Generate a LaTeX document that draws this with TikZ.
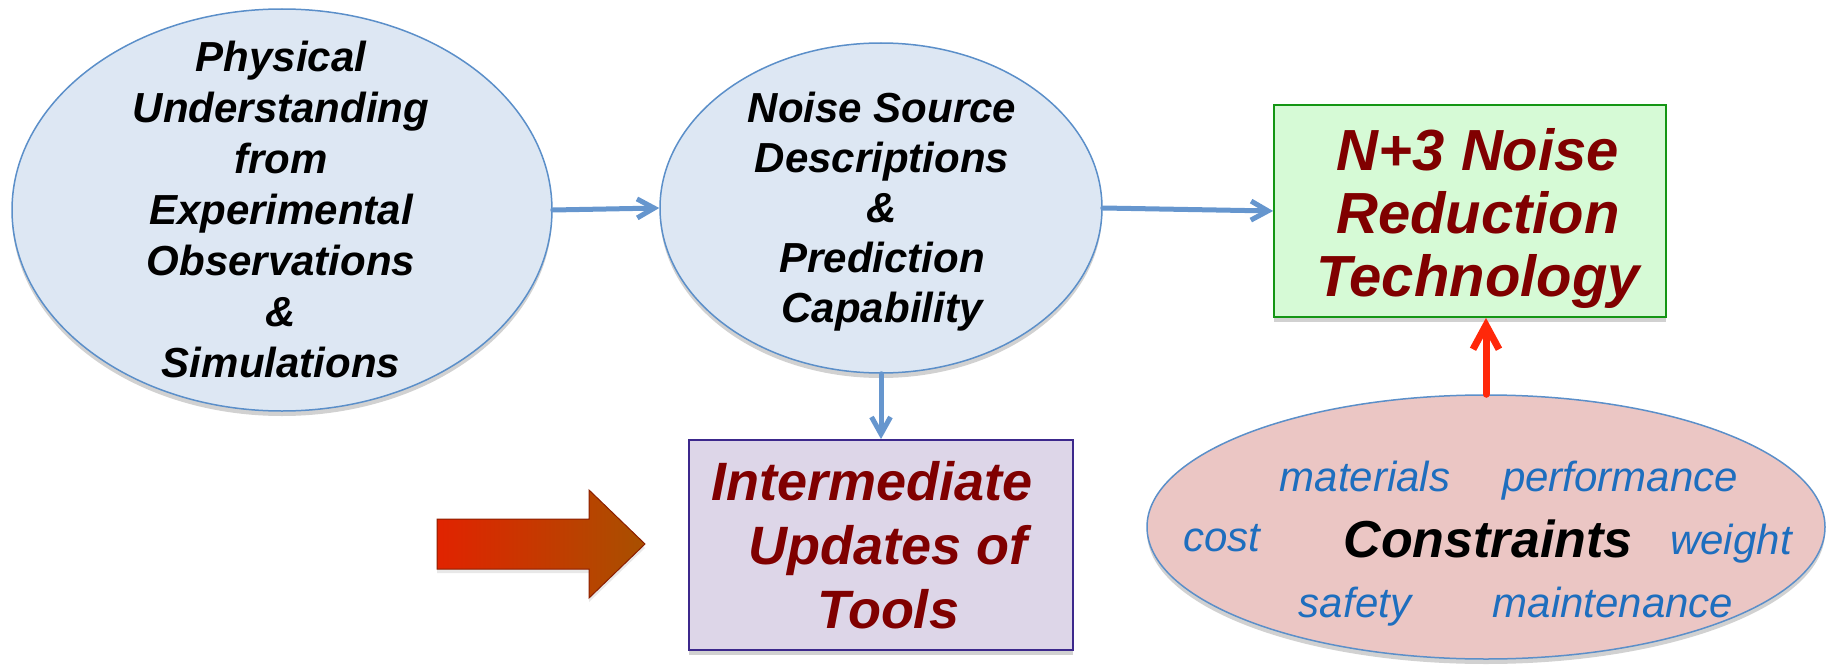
\documentclass[tikz,border=0pt]{standalone}
\usepackage{fontspec}
\setmainfont{Liberation Sans}
\usetikzlibrary{shapes.geometric,arrows.meta,shadows}

\definecolor{ellfill}{RGB}{221,231,243}
\definecolor{ellline}{RGB}{91,143,201}
\definecolor{linkblue}{RGB}{102,150,206}
\definecolor{techfill}{RGB}{214,250,214}
\definecolor{techline}{RGB}{20,150,20}
\definecolor{darkred}{RGB}{128,0,0}
\definecolor{toolfill}{RGB}{221,214,232}
\definecolor{toolline}{RGB}{60,40,140}
\definecolor{consfill}{RGB}{235,198,196}
\definecolor{wordblue}{RGB}{30,110,190}
\definecolor{redlink}{RGB}{255,40,10}
\definecolor{arrowleft}{RGB}{225,35,0}
\definecolor{arrowright}{RGB}{168,80,0}
\definecolor{arrowline}{RGB}{140,30,0}

\begin{document}
\begin{tikzpicture}[x=1pt,y=-1pt,
  softshadow/.style={drop shadow={shadow xshift=0pt,shadow yshift=-5pt,opacity=0.18,fill=black}},
  bubble/.style={ellipse,draw=ellline,fill=ellfill,line width=1.5pt,inner sep=0pt,softshadow},
  bubbletext/.style={align=center,inner sep=0pt,font=\fontsize{42}{51}\selectfont\bfseries\itshape},
  panel/.style={rectangle,line width=1.8pt,inner sep=0pt,softshadow},
  paneltext/.style={align=center,inner sep=0pt,text=darkred,
    font=\fontsize{54}{64}\selectfont\bfseries\itshape},
  word/.style={text=wordblue,font=\fontsize{42}{50}\selectfont\itshape},
  flow/.style={draw=linkblue,line width=5pt,line cap=round,
    -{Straight Barb[length=17pt,width=19pt,line width=5pt]}},
  push/.style={draw=redlink,line width=7pt,line cap=round,
    -{Straight Barb[length=24pt,width=26pt,line width=7pt]}}
]
\useasboundingbox (0,0) rectangle (1829,669);

% main bubbles
\node[bubble,minimum width=540pt,minimum height=402pt] (phys) at (282,210) {};
\node[bubbletext] (physt) at (281,209)
  {Physical\\Understanding\\from\\Experimental\\Observations\\\&\\Simulations};
\node[bubble,minimum width=442pt,minimum height=330pt] (src) at (881,208) {};
\node[bubbletext,font=\fontsize{42}{50}\selectfont\bfseries\itshape] (srct) at (882,212)
  {Noise Source\\Descriptions\\\&\\Prediction\\Capability};

% boxes
\node[panel,draw=techline,fill=techfill,minimum width=392pt,minimum height=212pt] (tech) at (1470,211) {};
\node[paneltext,font=\fontsize{58}{63}\selectfont\bfseries\itshape] (techt) at (1478,219)
  {N+3 Noise\\Reduction\\Technology};
\node[panel,draw=toolline,fill=toolfill,minimum width=384pt,minimum height=210pt] (tools) at (881,545) {};
\node[paneltext] (toolst) at (881,545)
  {Intermediate\hspace*{18pt}\\\hspace*{14pt}Updates of\\\hspace*{14pt}Tools};

% constraints bubble
\node[bubble,fill=consfill,minimum width=678pt,minimum height=264pt] (cons) at (1486,527) {};
\node[font=\fontsize{52}{60}\selectfont\bfseries\itshape] (ctitle) at (1488,539) {Constraints};
\node[word] (wmat) at (1365,476) {materials};
\node[word] (wperf) at (1620,481) {performance};
\node[word] (wcost) at (1222,538) {cost};
\node[word] (wweight) at (1731,544) {weight};
\node[word] (wsafe) at (1355,607) {safety};
\node[word] (wmaint) at (1613,602) {maintenance};

% connectors
\draw[flow] (phys.east) -- (src.west);
\draw[flow] (src.east) -- (tech.west);
\draw[flow] (src.south) -- (tools.north);
\draw[push] (cons.north) -- (cons.north |- tech.south);

% big block arrow
\shade[left color=arrowleft,right color=arrowright,draw=arrowline,line width=1pt,
  drop shadow={shadow xshift=0pt,shadow yshift=-4pt,opacity=0.18}]
  (437,519) -- (589,519) -- (589,490) -- (645,544) -- (589,598) -- (589,569)
  -- (437,569) -- cycle;
\end{tikzpicture}
\end{document}
